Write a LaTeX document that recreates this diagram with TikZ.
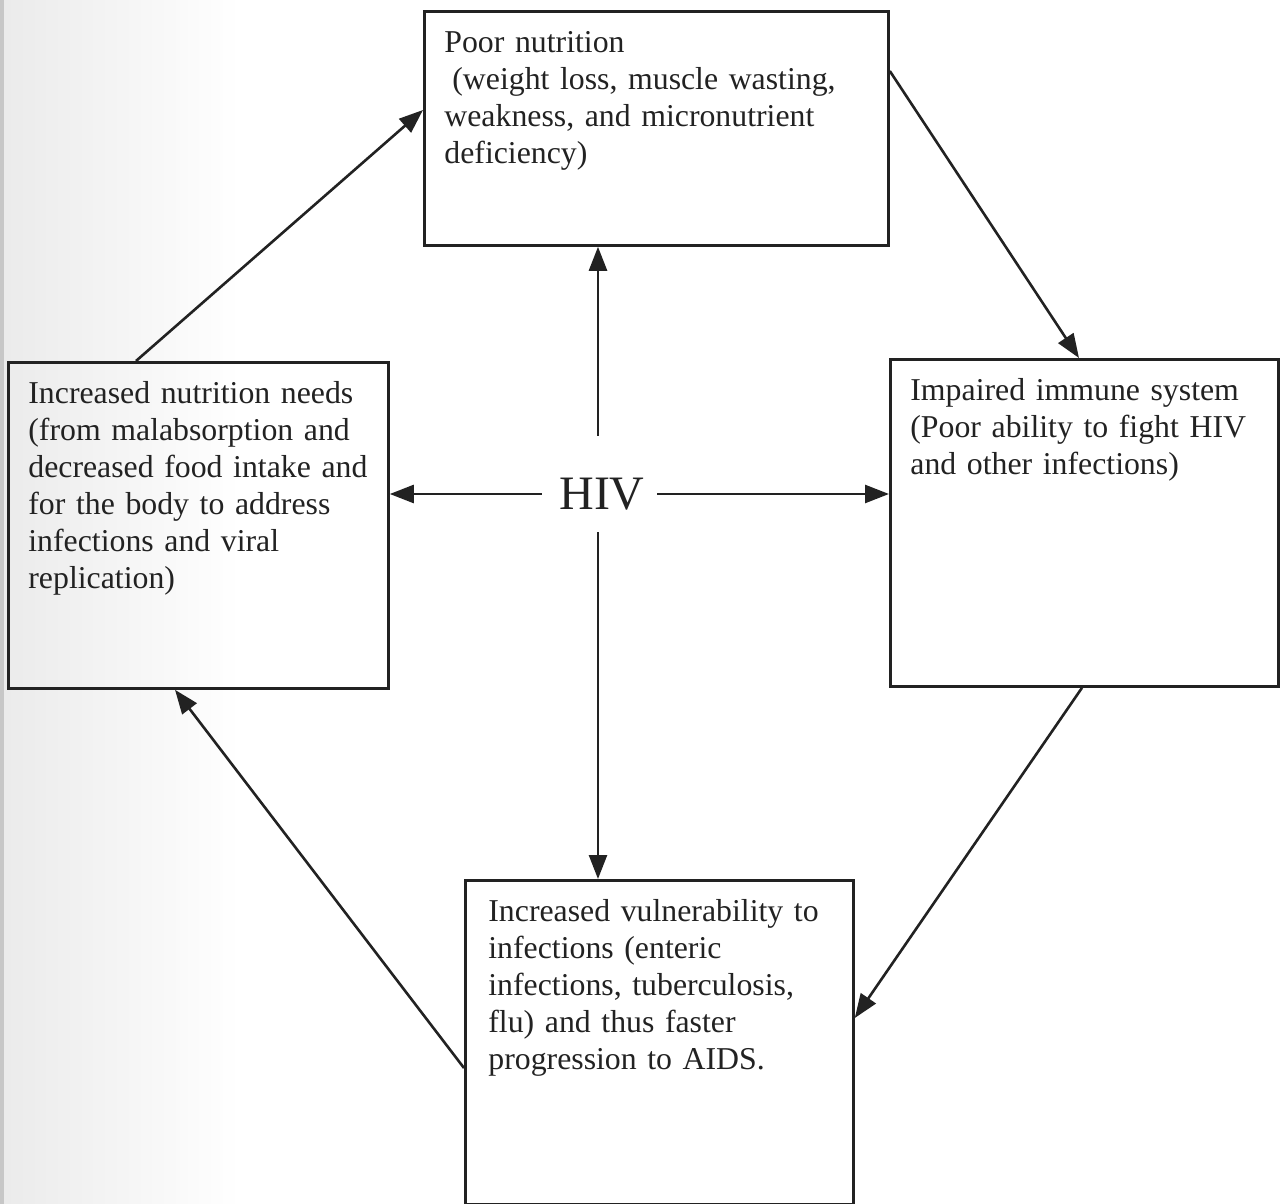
\documentclass[tikz,border=0pt]{standalone}
\usepackage{fontspec}
\setmainfont{Liberation Serif}
\usetikzlibrary{arrows.meta}
\definecolor{ink}{HTML}{222222}

\begin{document}
\begin{tikzpicture}[x=0.5pt,y=-0.5pt,
  box/.style={draw=ink, line width=1.4pt, anchor=north west, align=left,
    inner xsep=10pt, inner ysep=0pt, text height=20.5pt, text=ink,
    font=\fontsize{15.9}{18.5}\selectfont},
  arr/.style={draw=ink, line width=1.3pt, -{Triangle[length=12pt,width=9pt]}}]
\useasboundingbox (0,0) rectangle (1282,1204);
% scan shadow on the left edge
\fill[left color=black!8, right color=white] (0,0) rectangle (240,1204);
\fill[black!22] (0,0) rectangle (4,1204);
% boxes
\node[box, text width=212pt, text depth=96.5pt] (nut) at (423,10)
  {Poor nutrition\\ \hspace*{0.25em}(weight loss, muscle wasting,\\ weakness, and micronutrient\\ deficiency)};
\node[box, text width=170pt, text depth=142.5pt] (need) at (7,361)
  {Increased nutrition needs\\ (from malabsorption and\\ decreased food intake and\\ for the body to address\\ infections and viral\\ replication)};
\node[box, text width=174pt, text depth=143pt] (imm) at (889,358)
  {Impaired immune system\\ (Poor ability to fight HIV\\ and other infections)};
\node[box, inner xsep=11.5pt, text width=171pt, text depth=141.5pt] (vul) at (464,879)
  {Increased vulnerability to\\ infections (enteric\\ infections, tuberculosis,\\ flu) and thus faster\\ progression to AIDS.};
\node[inner sep=0pt, text=ink, font=\fontsize{24}{28}\selectfont] (hiv) at (602,494) {HIV};
\coordinate (axis) at (598,494);
% arrows out of HIV
\path[arr, shorten <=21pt] (hiv.north -| axis) -- (axis |- nut.south);
\path[arr, shorten <=11pt] (hiv.south -| axis) -- (axis |- vul.north);
\path[arr, shorten <=8.7pt] (hiv.west) -- (hiv.west -| need.east);
\path[arr, shorten <=6.2pt] (hiv.east) -- (hiv.east -| imm.west);
% the cycle
\path[arr] ([xshift=64.5pt]need.north west) -- ([yshift=-50pt]nut.north west);
\path[arr] ([yshift=-30.5pt]nut.north east) -- ([xshift=95pt]imm.north west);
\path[arr] ([xshift=96.5pt]imm.south west) -- ([yshift=-69.5pt]vul.north east);
\path[arr] ([yshift=-94.5pt]vul.north west) -- ([xshift=84pt]need.south west);
\end{tikzpicture}
\end{document}
